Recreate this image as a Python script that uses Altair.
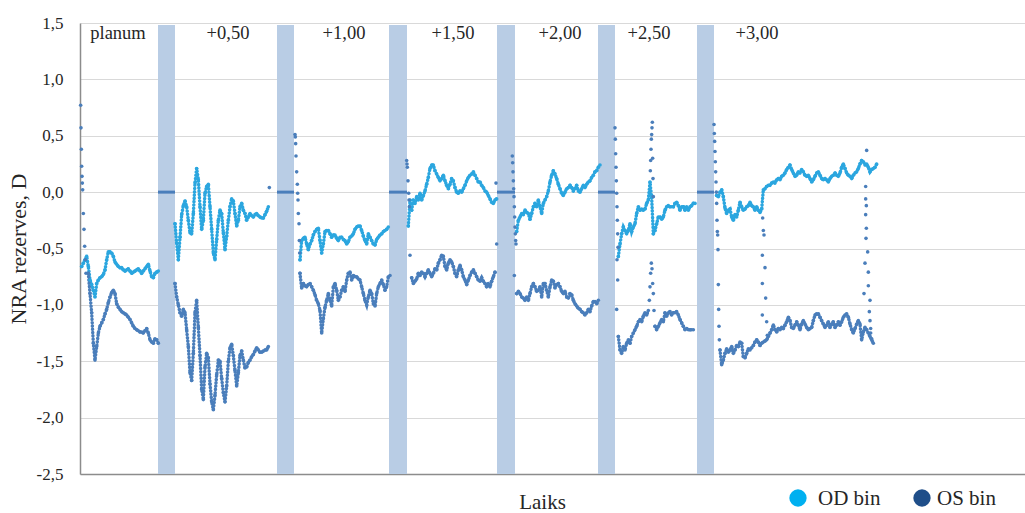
import altair as alt
import pandas as pd

# Recording time axis (one unit = one sample tick), sampling step of the bins
STEP = 5
T_MAX = 2835

# Lens phases shown along the top and the pauses between them
phase_labels = ["planum", "+0,50", "+1,00", "+1,50", "+2,00", "+2,50", "+3,00"]
phase_label_t = [114, 444, 792, 1119, 1440, 1707, 2031]
pause_start = [234, 591, 927, 1251, 1554, 1851]
pause_end = [285, 642, 981, 1305, 1605, 1902]

# OD bin: start time of each recorded run and the NRA reserve values (D)
od_start = [5, 285, 660, 985, 1310, 1615, 1910]
od_seg1 = [-0.66, -0.63, -0.60, -0.57, -0.66, -0.78, -0.82, -0.87, -0.93, -0.81, -0.78, -0.76,
           -0.75, -0.73, -0.69, -0.60, -0.53, -0.53, -0.54, -0.57, -0.62, -0.64, -0.66, -0.67,
           -0.67, -0.69, -0.70, -0.69, -0.68, -0.70, -0.72, -0.71, -0.70, -0.69, -0.68, -0.70,
           -0.72, -0.70, -0.68, -0.66, -0.64, -0.70, -0.75, -0.76, -0.72, -0.71, -0.70]
od_seg2 = [-0.28, -0.45, -0.60, -0.40, -0.20, -0.12, -0.08, -0.13, -0.25, -0.36, -0.37, -0.19,
           0.08, 0.21, 0.11, -0.13, -0.33, -0.25, -0.01, 0.05, 0.07, -0.13, -0.33, -0.54,
           -0.60, -0.42, -0.25, -0.16, -0.19, -0.36, -0.51, -0.39, -0.25, -0.13, -0.06, -0.08,
           -0.19, -0.30, -0.25, -0.13, -0.10, -0.16, -0.19, -0.25, -0.22, -0.19, -0.21, -0.22,
           -0.20, -0.19, -0.21, -0.22, -0.23, -0.23, -0.20, -0.17, -0.13]
od_seg3 = [-0.60, -0.43, -0.41, -0.40, -0.46, -0.51, -0.46, -0.43, -0.38, -0.35, -0.33, -0.32,
           -0.43, -0.54, -0.46, -0.35, -0.34, -0.34, -0.37, -0.40, -0.38, -0.38, -0.41, -0.43,
           -0.40, -0.40, -0.42, -0.43, -0.46, -0.44, -0.40, -0.39, -0.37, -0.33, -0.31, -0.30,
           -0.30, -0.34, -0.39, -0.43, -0.46, -0.37, -0.40, -0.43, -0.46, -0.47, -0.42, -0.40,
           -0.38, -0.37, -0.35, -0.34, -0.33, -0.31]
od_seg4 = [-0.30, -0.07, -0.16, -0.07, -0.10, -0.04, -0.07, -0.01, -0.07, -0.03, 0.01, 0.07,
           0.13, 0.21, 0.24, 0.24, 0.19, 0.16, 0.13, 0.10, 0.12, 0.15, 0.10, 0.06,
           0.03, 0.07, 0.12, 0.10, 0.04, 0.00, -0.01, 0.01, 0.00, 0.03, 0.06, 0.10,
           0.13, 0.15, 0.16, 0.18, 0.15, 0.12, 0.09, 0.09, 0.06, 0.04, 0.01, 0.00,
           -0.03, -0.06, -0.09, -0.10, -0.07, -0.06]
od_seg5 = [-0.35, -0.25, -0.22, -0.19, -0.20, -0.16, -0.18, -0.19, -0.24, -0.19, -0.13, -0.10,
           -0.13, -0.07, -0.13, -0.19, -0.10, -0.07, -0.04, 0.01, 0.09, 0.15, 0.19, 0.16,
           0.12, 0.07, 0.03, -0.01, -0.03, 0.00, 0.03, 0.04, 0.06, 0.04, 0.01, 0.03,
           0.06, 0.01, 0.00, 0.03, 0.06, 0.04, 0.07, 0.09, 0.10, 0.13, 0.15, 0.18,
           0.19, 0.22, 0.24]
od_seg6 = [-0.57, -0.46, -0.37, -0.31, -0.34, -0.37, -0.34, -0.28, -0.35, -0.31, -0.28, -0.19,
           -0.13, -0.16, -0.15, -0.16, -0.15, -0.10, -0.07, 0.09, -0.05, -0.37, -0.34, -0.28,
           -0.22, -0.22, -0.24, -0.22, -0.16, -0.13, -0.12, -0.13, -0.13, -0.13, -0.10, -0.09,
           -0.12, -0.16, -0.13, -0.13, -0.16, -0.13, -0.16, -0.13, -0.12, -0.10, -0.10]
od_seg7 = [-0.03, -0.04, 0.00, 0.02, -0.04, -0.14, -0.19, -0.16, -0.15, -0.22, -0.25, -0.20,
           -0.22, -0.16, -0.09, -0.13, -0.16, -0.15, -0.13, -0.12, -0.09, -0.12, -0.13, -0.16,
           -0.13, -0.16, -0.18, -0.15, 0.02, 0.03, 0.05, 0.06, 0.06, 0.08, 0.09, 0.08,
           0.11, 0.12, 0.11, 0.14, 0.15, 0.17, 0.20, 0.22, 0.24, 0.20, 0.17, 0.14,
           0.15, 0.18, 0.17, 0.20, 0.18, 0.15, 0.14, 0.15, 0.12, 0.09, 0.11, 0.14,
           0.17, 0.18, 0.15, 0.12, 0.11, 0.12, 0.11, 0.09, 0.12, 0.14, 0.15, 0.17,
           0.15, 0.14, 0.17, 0.22, 0.25, 0.21, 0.17, 0.15, 0.14, 0.12, 0.15, 0.17,
           0.18, 0.21, 0.25, 0.28, 0.27, 0.24, 0.25, 0.22, 0.18, 0.20, 0.21, 0.22, 0.25]

# OS bin: start time of each recorded run and the NRA reserve values (D)
os_start = [25, 285, 660, 995, 1310, 1615, 1725, 1920]
os_seg1 = [-0.72, -0.90, -1.07, -1.34, -1.49, -1.37, -1.25, -1.19, -1.16, -1.13, -1.08, -1.04,
           -0.98, -0.93, -0.89, -0.87, -0.90, -0.99, -1.02, -1.04, -1.06, -1.07, -1.08, -1.09,
           -1.11, -1.13, -1.16, -1.19, -1.21, -1.22, -1.23, -1.24, -1.24, -1.25, -1.23, -1.21,
           -1.25, -1.31, -1.33, -1.34, -1.30, -1.31, -1.34]
os_seg2 = [-0.81, -0.93, -1.00, -1.07, -1.10, -1.04, -1.07, -1.22, -1.37, -1.60, -1.67, -1.43,
           -1.07, -0.96, -1.20, -1.45, -1.75, -1.84, -1.55, -1.43, -1.47, -1.70, -1.86, -1.93,
           -1.80, -1.62, -1.49, -1.50, -1.65, -1.78, -1.86, -1.72, -1.50, -1.38, -1.35, -1.45,
           -1.58, -1.72, -1.60, -1.45, -1.41, -1.49, -1.56, -1.55, -1.51, -1.49, -1.46, -1.44,
           -1.41, -1.38, -1.40, -1.42, -1.42, -1.41, -1.40, -1.40, -1.37]
os_seg3 = [-0.72, -0.85, -0.81, -0.83, -0.84, -0.82, -0.81, -0.84, -0.87, -0.91, -0.96, -0.99,
           -1.05, -1.25, -1.12, -1.02, -0.96, -0.90, -0.96, -1.01, -0.84, -0.81, -0.87, -0.96,
           -0.93, -0.87, -0.84, -0.88, -0.78, -0.72, -0.71, -0.78, -0.74, -0.75, -0.75, -0.77,
           -0.78, -0.84, -0.90, -0.96, -1.00, -0.93, -0.87, -0.90, -0.99, -1.01, -0.90, -0.84,
           -0.81, -0.78, -0.82, -0.87, -0.84, -0.75, -0.74]
os_seg4 = [-0.76, -0.81, -0.79, -0.77, -0.72, -0.74, -0.71, -0.72, -0.75, -0.72, -0.69, -0.72,
           -0.75, -0.72, -0.68, -0.69, -0.63, -0.60, -0.56, -0.57, -0.66, -0.69, -0.63, -0.60,
           -0.62, -0.66, -0.72, -0.75, -0.69, -0.65, -0.69, -0.75, -0.78, -0.82, -0.78, -0.74,
           -0.71, -0.69, -0.72, -0.75, -0.78, -0.79, -0.76, -0.79, -0.81, -0.84, -0.81, -0.84,
           -0.79, -0.75, -0.71]
os_seg5 = [-0.90, -0.88, -0.90, -0.93, -0.94, -0.96, -0.93, -0.96, -0.90, -0.84, -0.81, -0.84,
           -0.88, -0.87, -0.84, -0.93, -0.81, -0.81, -0.87, -0.93, -0.84, -0.78, -0.79, -0.85,
           -0.82, -0.81, -0.84, -0.88, -0.90, -0.88, -0.93, -0.94, -0.90, -0.91, -0.96, -0.99,
           -1.01, -1.03, -1.04, -1.06, -1.07, -1.09, -1.07, -1.04, -1.06, -1.01, -0.97, -0.97,
           -0.99, -0.96]
os_seg6a = [-1.28, -1.40, -1.43, -1.37, -1.40, -1.34, -1.31, -1.34, -1.28, -1.25, -1.22, -1.19,
            -1.15, -1.13, -1.15, -1.10, -1.07, -1.09, -1.05]
os_seg6b = [-1.19, -1.22, -1.19, -1.16, -1.13, -1.15, -1.07, -1.10, -1.07, -1.06, -1.09, -1.07,
            -1.07, -1.06, -1.09, -1.13, -1.16, -1.19, -1.22, -1.21, -1.22, -1.22, -1.22, -1.22]
os_seg7 = [-1.40, -1.53, -1.49, -1.43, -1.39, -1.42, -1.40, -1.37, -1.43, -1.40, -1.36, -1.37,
           -1.33, -1.34, -1.46, -1.47, -1.43, -1.39, -1.40, -1.38, -1.36, -1.33, -1.31, -1.33,
           -1.36, -1.34, -1.33, -1.32, -1.31, -1.28, -1.25, -1.22, -1.18, -1.22, -1.24, -1.21,
           -1.22, -1.20, -1.21, -1.18, -1.15, -1.11, -1.14, -1.20, -1.21, -1.18, -1.15, -1.18,
           -1.22, -1.17, -1.14, -1.17, -1.20, -1.22, -1.21, -1.20, -1.14, -1.09, -1.08, -1.08,
           -1.11, -1.14, -1.17, -1.20, -1.18, -1.15, -1.20, -1.17, -1.15, -1.20, -1.18, -1.15,
           -1.18, -1.15, -1.11, -1.09, -1.08, -1.11, -1.17, -1.22, -1.25, -1.21, -1.17, -1.14,
           -1.17, -1.31, -1.24, -1.20, -1.22, -1.25, -1.28, -1.31, -1.34]

# OS bin readings taken while the value was switching (steep jumps)
os_jump_t = [2, 3, 4, 5, 6, 7, 8, 10, 12, 14, 16, 18,
             568,
             645, 646, 647, 648, 650, 652, 653, 654, 655, 657, 658, 659,
             980, 981, 982, 984, 986, 987, 988, 990, 1248, 1250,
             1297, 1298, 1299, 1300, 1301, 1302, 1303, 1304, 1305, 1306, 1307, 1308, 1303,
             1605, 1606, 1607, 1608, 1609, 1610, 1611, 1612, 1613, 1614, 1611, 1613, 1610,
             1711, 1712, 1713, 1714, 1715, 1716, 1717, 1718, 1719, 1720,
             1708, 1710, 1712, 1714, 1716, 1718, 1720, 1722,
             1902, 1903, 1904, 1905, 1906, 1907, 1908, 1909, 1910, 1911, 1912, 1913, 1914,
             1915, 1916, 1917, 1918,
             2048, 2050, 2052, 2047, 2055, 2047, 2057, 2047, 2060, 2062,
             2360, 2357, 2357, 2359, 2357, 2359, 2358, 2363, 2355, 2365, 2365, 2352, 2370,
             2368, 2370, 2372, 2372, 2375]
os_jump_v = [0.77, 0.57, 0.38, 0.23, 0.14, 0.08, 0.02, -0.19, -0.33, -0.48, -0.60, -0.72,
             0.04,
             0.51, 0.49, 0.43, 0.32, 0.18, 0.07, -0.01, -0.07, -0.19, -0.28, -0.43, -0.54,
             0.28, 0.25, 0.22, 0.10, -0.01, -0.07, -0.13, -0.56, 0.08, -0.46,
             0.32, 0.26, 0.18, 0.10, 0.03, -0.04, -0.13, -0.22, -0.31, -0.37, -0.43, -0.46, -0.74,
             0.57, 0.47, 0.34, 0.22, 0.10, -0.01, -0.13, -0.25, -0.37, -0.49, -0.60, -0.78, -1.04,
             0.19, 0.28, 0.38, 0.47, 0.51, 0.57, 0.62, 0.30, 0.12, -0.04,
             -0.96, -0.84, -0.72, -0.63, -0.68, -0.81, -0.90, -1.05,
             0.60, 0.52, 0.45, 0.36, 0.27, 0.18, 0.09, 0.00, -0.10, -0.25, -0.35, -0.38, -0.51,
             -0.82, -1.04, -1.19, -1.31,
             -0.23, -0.34, -0.38, -0.56, -0.67, -0.81, -0.94, -1.09, -1.15, -1.27,
             0.37, 0.05, -0.06, -0.12, -0.20, -0.32, -0.41, -0.53, -0.63, -0.71, -0.83, -0.90, -0.96,
             -1.06, -1.14, -1.21, -1.25, -1.30]

series_names = ["OD bin", "OS bin"]
dot_colors = ["#2ba6df", "#4a7ebb"]
legend_colors = ["#00b0f0", "#1f4e89"]
band_color = "#b9cde5"
serif = "'Liberation Serif', 'Times New Roman', serif"
ink = "#262626"

od_segs = [od_seg1, od_seg2, od_seg3, od_seg4, od_seg5, od_seg6, od_seg7]
os_segs = [os_seg1, os_seg2, os_seg3, os_seg4, os_seg5, os_seg6a, os_seg6b, os_seg7]

rows = []
for name, starts, segs in [("OD bin", od_start, od_segs), ("OS bin", os_start, os_segs)]:
    for k, (t0, vals) in enumerate(zip(starts, segs)):
        for i, v in enumerate(vals):
            rows.append({"t": t0 + i * STEP, "v": v, "series": name, "run": f"{name} {k}"})
runs = pd.DataFrame(rows)
jumps = pd.DataFrame({"t": os_jump_t, "v": os_jump_v, "series": "OS bin"})
points = pd.concat([runs, jumps], ignore_index=True)

pauses = pd.DataFrame({"start": pause_start, "end": pause_end})
phases = pd.DataFrame({"t": phase_label_t, "label": phase_labels})

W, H = 945, 451

x_scale = alt.Scale(domain=[0, T_MAX], nice=False, zero=False)
y_scale = alt.Scale(domain=[-2.5, 1.5], nice=False, zero=False)
color_scale = alt.Scale(domain=series_names, range=dot_colors)

x_axis = alt.Axis(
    labels=False, ticks=False, grid=False,
    domainColor="#8c8c8c", domainWidth=1.5,
    title="Laiks", titleFont=serif, titleFontSize=21, titleFontWeight="normal",
    titleColor=ink, titleX=462, titleY=28, titleAlign="center", titleBaseline="middle",
)
y_axis = alt.Axis(
    values=[-2.5, -2.0, -1.5, -1.0, -0.5, 0.0, 0.5, 1.0, 1.5],
    labelExpr="(datum.value < 0 ? '-' : '') + replace(format(abs(datum.value), '.1f'), '.', ',')",
    labelFont=serif, labelFontSize=17, labelColor=ink, labelPadding=17,
    ticks=False, grid=True, gridColor="#d9d9d9", gridWidth=1,
    domainColor="#8c8c8c", domainWidth=1.5,
    title="NRA rezerves, D", titleFont=serif, titleFontSize=22, titleFontWeight="normal",
    titleColor=ink, titleX=-62, titleY=H / 2, titleAlign="center", titleBaseline="middle",
)

bands = alt.Chart(pauses).mark_rect(color=band_color).encode(
    x=alt.X("start:Q", scale=x_scale, axis=x_axis),
    x2="end:Q",
    y=alt.value(2),
    y2=alt.value(H),
)

zero_runs = alt.Chart(pauses).mark_rule(color=dot_colors[1], strokeWidth=3).encode(
    x=alt.X("start:Q", scale=x_scale),
    x2="end:Q",
    y=alt.Y(datum=0, scale=y_scale, axis=y_axis),
)

# dense sampling between readings shows as a chain of round dots
chains = alt.Chart(runs).mark_line(
    strokeWidth=3.5, strokeDash=[0.1, 3.2], strokeCap="round", interpolate="linear"
).encode(
    x=alt.X("t:Q", scale=x_scale),
    y=alt.Y("v:Q", scale=y_scale),
    detail="run:N",
    color=alt.Color("series:N", scale=color_scale, legend=None),
)

dots = alt.Chart(points).mark_circle(size=13, opacity=1).encode(
    x=alt.X("t:Q", scale=x_scale),
    y=alt.Y("v:Q", scale=y_scale),
    color=alt.Color("series:N", scale=color_scale, legend=None),
)

phase_text = alt.Chart(phases).mark_text(
    font=serif, fontSize=18.5, color=ink, baseline="middle", align="center"
).encode(
    x=alt.X("t:Q", scale=x_scale),
    y=alt.Y(datum=1.41, scale=y_scale),
    text="label:N",
)

legend_layers = []
for i, (name, col) in enumerate(zip(series_names, legend_colors)):
    legend_layers.append(
        alt.Chart(pd.DataFrame({"name": [name]})).mark_circle(size=300, color=col, opacity=1).encode(
            x=alt.value(718 + 124 * i), y=alt.value(475)
        )
    )
    legend_layers.append(
        alt.Chart(pd.DataFrame({"name": [name]})).mark_text(
            font=serif, fontSize=21, color=ink, align="left", baseline="middle"
        ).encode(x=alt.value(738 + 119 * i), y=alt.value(476), text="name:N")
    )

chart = alt.layer(bands, zero_runs, chains, dots, phase_text, *legend_layers).properties(
    width=W,
    height=H,
    autosize=alt.AutoSizeParams(type="none"),
    padding={"left": 80, "top": 23, "right": 0, "bottom": 39},
    background="white",
).configure_view(stroke=None)

chart.save("out.html", embed_options={"renderer": "svg", "actions": False})
